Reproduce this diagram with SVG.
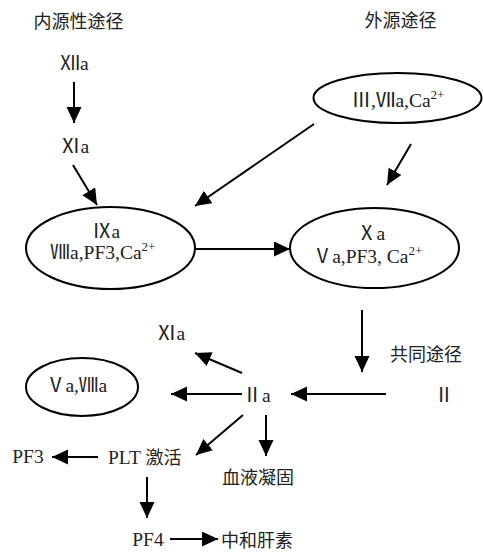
<svg xmlns="http://www.w3.org/2000/svg" width="483" height="553" viewBox="0 0 483 553">
<defs>
<marker id="ah" markerUnits="userSpaceOnUse" markerWidth="18" markerHeight="16" refX="16" refY="7.5" orient="auto">
<path d="M0,0 L16,7.5 L0,15 z" fill="#000"/>
</marker>
<style>
text{font-family:"Liberation Serif","Noto Sans CJK SC",serif;font-size:19.5px;fill:#222;}
.cn{font-family:"Noto Sans CJK SC","Liberation Serif",sans-serif;font-size:18px;}
.sup{font-size:13px;}
ellipse{fill:none;stroke:#000;stroke-width:2;}
#connectors line{stroke:#000;stroke-width:2;marker-end:url(#ah);}
</style>
</defs>
<rect width="483" height="553" fill="#fff"/>
<g id="title-intrinsic"><text class="cn" x="78.5" y="28" text-anchor="middle">内源性途径</text></g>
<g id="title-extrinsic"><text class="cn" x="400.5" y="27" text-anchor="middle">外源途径</text></g>
<g id="n-XIIa"><text x="74.5" y="70" text-anchor="middle">Ⅻa</text></g>
<g id="n-XIa"><text x="75" y="153" text-anchor="middle">Ⅺa</text></g>
<g id="n-III"><ellipse cx="397.5" cy="98" rx="84" ry="25"/><text x="398" y="107" text-anchor="middle">Ⅲ,Ⅶa,Ca<tspan class="sup" dy="-8">2+</tspan></text></g>
<g id="n-IXa"><ellipse cx="110.5" cy="248" rx="84.5" ry="41"/><text x="106" y="238" text-anchor="middle">Ⅸa</text><text x="103" y="259" text-anchor="middle">Ⅷa,PF3,Ca<tspan class="sup" dy="-8">2+</tspan></text></g>
<g id="n-Xa"><ellipse cx="374.5" cy="248" rx="84.5" ry="40"/><text x="371" y="240" text-anchor="middle">Ⅹa</text><text x="367.5" y="263" text-anchor="middle">Ⅴa,PF3, Ca<tspan class="sup" dy="-8">2+</tspan></text></g>
<g id="label-common"><text class="cn" x="426" y="361" text-anchor="middle">共同途径</text></g>
<g id="n-II"><text x="444" y="402" text-anchor="middle">Ⅱ</text></g>
<g id="n-IIa"><text x="256.5" y="402" text-anchor="middle">Ⅱa</text></g>
<g id="n-XIa2"><text x="171" y="340" text-anchor="middle">Ⅺa</text></g>
<g id="n-VaVIIIa"><ellipse cx="82" cy="387" rx="56" ry="29"/><text x="76.5" y="392" text-anchor="middle">Ⅴa,Ⅷa</text></g>
<g id="n-PF3"><text x="28" y="463" text-anchor="middle">PF3</text></g>
<g id="n-PLT"><text x="108" y="464">PLT <tspan class="cn">激活</tspan></text></g>
<g id="n-clot"><text class="cn" x="258" y="484" text-anchor="middle">血液凝固</text></g>
<g id="n-PF4"><text x="148" y="546" text-anchor="middle">PF4</text></g>
<g id="n-heparin"><text class="cn" x="257" y="547" text-anchor="middle">中和肝素</text></g>
<g id="connectors">
<line x1="74" y1="82" x2="74" y2="123"/>
<line x1="73" y1="165" x2="97" y2="205"/>
<line x1="314" y1="124" x2="195" y2="206"/>
<line x1="411" y1="144" x2="387" y2="185"/>
<line x1="194" y1="249" x2="290" y2="249"/>
<line x1="362" y1="310" x2="362" y2="372"/>
<line x1="386" y1="394" x2="291" y2="394"/>
<line x1="242" y1="394" x2="171" y2="394"/>
<line x1="242" y1="373" x2="195" y2="353"/>
<line x1="243" y1="415" x2="196" y2="455"/>
<line x1="266" y1="415" x2="266" y2="456"/>
<line x1="98" y1="457" x2="52" y2="457"/>
<line x1="147" y1="477" x2="147" y2="518"/>
<line x1="170" y1="539" x2="218" y2="539"/>
</g>
</svg>
